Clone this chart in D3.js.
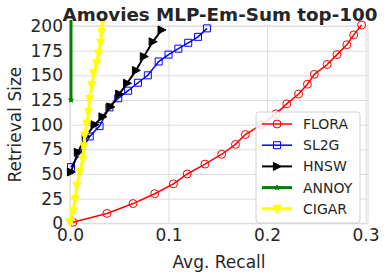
<!DOCTYPE html>
<html>
<head>
<meta charset="utf-8">
<script src="https://cdn.jsdelivr.net/npm/d3@7"></script>
<style>
  body { margin: 0; background: #fff; }
  text { font-family: "DejaVu Sans", sans-serif; fill: #262626; }
</style>
</head>
<body>
<svg id="chart"></svg>
<script>
// values
const floraX = [0.003, 0.0375, 0.064, 0.086, 0.105, 0.119, 0.137, 0.154, 0.168, 0.178, 0.194, 0.209, 0.220, 0.232, 0.241, 0.248, 0.261, 0.271, 0.281, 0.288, 0.296];
const floraY = [1, 10, 20, 30, 40, 50, 60, 70, 80, 90, 100, 111, 121, 131, 141, 151, 161, 171, 181, 191, 201];

const sl2gX = [0.001, 0.010, 0.020, 0.030, 0.040, 0.049, 0.059, 0.069, 0.079, 0.090, 0.100, 0.110, 0.120, 0.130, 0.139];
const sl2gY = [57, 71, 88, 98.5, 117.5, 126.7, 134.4, 142.5, 150, 164, 171, 177, 183, 189, 197.6];

const hnswX = [0.001, 0.008, 0.016, 0.025, 0.033, 0.041, 0.050, 0.058, 0.067, 0.075, 0.084, 0.093];
const hnswY = [52, 72, 88, 100, 108, 118, 131, 142, 155, 169, 184, 196];

const annoyX = [0.001, 0.001];
const annoyY = [125, 212];

const cigarX = [0.000, 0.003, 0.005, 0.007, 0.010, 0.013, 0.014, 0.015, 0.017, 0.0186, 0.020, 0.022, 0.024, 0.027, 0.029, 0.031, 0.032, 0.033];
const cigarY = [1, 12, 24, 38, 52, 65, 78, 89, 101, 113, 126, 140, 152, 162, 172, 183, 194, 205];

const xTicks = [0, 0.1, 0.2, 0.3];
const yTicks = [0, 25, 50, 75, 100, 125, 150, 175, 200];

const series = [
    {name: "FLORA", xs: floraX, ys: floraY, color: "red", width: 1.5, marker: "circle"},
    {name: "SL2G", xs: sl2gX, ys: sl2gY, color: "blue", width: 1.5, marker: "square"},
    {name: "HNSW", xs: hnswX, ys: hnswY, color: "black", width: 2, marker: "triRight"},
    {name: "ANNOY", xs: annoyX, ys: annoyY, color: "green", width: 3, marker: "star"},
    {name: "CIGAR", xs: cigarX, ys: cigarY, color: "yellow", width: 3, marker: "triDown"}
];

const width = 388, height = 276;
const plotLeft = 70, plotRight = 368, plotTop = 26, plotBottom = 223.3;

const svg = d3.select("#chart")
    .attr("width", width)
    .attr("height", height);

const scaleX = d3.scaleLinear().domain([0, 0.3025]).range([plotLeft, plotRight]);
const scaleY = d3.scaleLinear().domain([0, 200]).range([plotBottom, plotTop]);

// grid + tick labels
svg.append("g")
    .attr("transform", `translate(0, ${plotBottom})`)
    .call(d3.axisBottom(scaleX).tickValues(xTicks).tickSize(-(plotBottom - plotTop)).tickFormat(d3.format(".1f")))
    .call(g => g.select(".domain").remove())
    .call(g => g.selectAll("line").attr("stroke", "#dcdcdc").attr("stroke-width", 1))
    .call(g => g.selectAll("text").attr("y", 4).attr("dy", "0.8em").style("font-size", "17px").style("font-family", "DejaVu Sans"));

svg.append("g")
    .attr("transform", `translate(${plotLeft}, 0)`)
    .call(d3.axisLeft(scaleY).tickValues(yTicks).tickSize(-(plotRight - plotLeft)))
    .call(g => g.select(".domain").remove())
    .call(g => g.selectAll("line").attr("stroke", "#dcdcdc").attr("stroke-width", 1))
    .call(g => g.selectAll("text").attr("x", -7).style("font-size", "17px").style("font-family", "DejaVu Sans"));

svg.append("rect")
    .attr("x", plotLeft).attr("y", plotTop)
    .attr("width", plotRight - plotLeft).attr("height", plotBottom - plotTop)
    .attr("fill", "none").attr("stroke", "#dcdcdc");

svg.append("clipPath").attr("id", "plotClip")
    .append("rect")
    .attr("x", plotLeft - 5).attr("y", plotTop - 6)
    .attr("width", plotRight - plotLeft + 10).attr("height", plotBottom - plotTop + 10);

const plot = svg.append("g").attr("clip-path", "url(#plotClip)");

function markerPath(type, s) {
    if (type === "circle") return d3.symbol(d3.symbolCircle, s * s * 0.78)();
    if (type === "square") return `M${-s / 2},${-s / 2}h${s}v${s}h${-s}Z`;
    if (type === "triRight") return `M${s * 0.55},0L${-s * 0.45},${-s * 0.5}L${-s * 0.45},${s * 0.5}Z`;
    if (type === "triDown") return `M0,${s * 0.55}L${-s * 0.5},${-s * 0.45}L${s * 0.5},${-s * 0.45}Z`;
    if (type === "star") return d3.symbol(d3.symbolStar, 8)();
}

function drawLine(g, d, pts) {
    g.append("path")
        .datum(pts)
        .attr("d", d3.line())
        .attr("fill", "none")
        .attr("stroke", d.color)
        .attr("stroke-width", d.width);
}

function drawMarkers(g, d, pts) {
    const hollow = d.marker === "circle" || d.marker === "square";
    const size = d.marker === "square" ? 7 : 8;
    g.selectAll(null)
        .data(pts)
        .enter()
        .append("path")
        .attr("transform", p => `translate(${p[0]}, ${p[1]})`)
        .attr("d", markerPath(d.marker, size))
        .attr("fill", hollow ? "none" : d.color)
        .attr("stroke", d.color)
        .attr("stroke-width", 1);
}

series.forEach(d => {
    const pts = d.xs.map((x, i) => [scaleX(x), scaleY(d.ys[i])]);
    drawLine(plot, d, pts);
    drawMarkers(plot, d, pts);
});

// legend
const lg = svg.append("g");
lg.append("rect")
    .attr("x", 256).attr("y", 112)
    .attr("width", 104).attr("height", 111)
    .attr("rx", 3)
    .attr("fill", "white").attr("fill-opacity", 0.85)
    .attr("stroke", "#d0d0d0");

series.forEach((d, i) => {
    const cy = 124 + i * 21.2;
    drawLine(lg, d, [[262, cy], [292, cy]]);
    drawMarkers(lg, d, [[277, cy]]);
    lg.append("text")
        .attr("x", 303).attr("y", cy)
        .attr("dy", "0.36em")
        .style("font-size", "14px")
        .text(d.name);
});

// titles
svg.append("text")
    .attr("x", 220).attr("y", 21)
    .attr("text-anchor", "middle")
    .style("font-size", "18.3px")
    .style("font-weight", "bold")
    .text("Amovies MLP-Em-Sum top-100");

svg.append("text")
    .attr("x", 219).attr("y", 268)
    .attr("text-anchor", "middle")
    .style("font-size", "17px")
    .text("Avg. Recall");

svg.append("text")
    .attr("transform", `translate(21, ${(plotTop + plotBottom) / 2}) rotate(-90)`)
    .attr("text-anchor", "middle")
    .style("font-size", "17px")
    .text("Retrieval Size");
</script>
</body>
</html>
